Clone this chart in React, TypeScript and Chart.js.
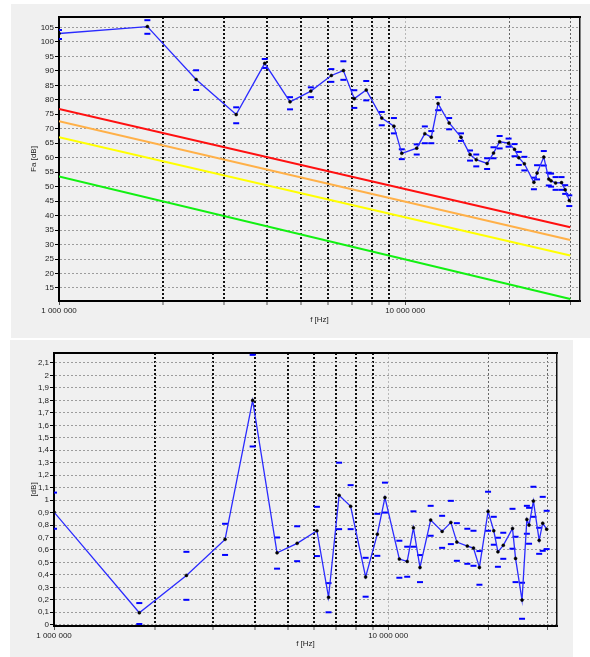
import React, { useEffect, useRef } from "react";
import { Chart, registerables } from "chart.js";

Chart.register(...registerables);

// ---------- data ----------
const freqsMHz = [1.0, 1.8, 2.49, 3.25, 3.93, 4.65, 5.34, 6.12, 6.63, 7.13, 7.72, 8.56, 9.28, 9.78, 10.8, 11.4, 11.9, 12.45, 13.4, 14.5, 15.4, 16.05, 17.25, 18.0, 18.75, 19.9, 20.7, 21.3, 22.1, 23.55, 24.05, 25.15, 26.0, 26.4, 27.2, 28.3, 29.0, 29.8];

const faMean = [102.9, 105.3, 87.0, 74.9, 92.6, 79.3, 83.0, 88.4, 90.1, 80.4, 83.4, 73.7, 70.9, 61.5, 63.3, 68.3, 67.1, 78.7, 72.0, 67.1, 61.1, 59.3, 58.0, 61.6, 65.5, 65.0, 62.9, 60.0, 57.9, 51.5, 54.7, 60.2, 52.6, 52.0, 51.3, 51.4, 48.9, 45.2];
const faMax = [104.1, 107.5, 90.2, 77.4, 94.1, 80.9, 84.3, 90.6, 93.3, 83.3, 86.5, 75.8, 73.7, 62.9, 64.6, 70.8, 69.2, 80.9, 73.7, 68.4, 62.5, 61.1, 59.8, 63.6, 67.5, 66.6, 64.7, 62.0, 60.3, 53.1, 57.4, 62.3, 54.8, 54.5, 53.3, 53.3, 50.5, 47.0];
const faMin = [101.0, 102.8, 83.4, 71.9, 91.0, 76.7, 80.9, 86.2, 86.9, 77.2, 79.8, 71.2, 68.4, 59.5, 61.1, 65.0, 65.0, 76.4, 69.8, 65.8, 59.0, 57.0, 56.1, 59.8, 63.2, 63.8, 60.5, 57.5, 55.6, 49.1, 52.5, 57.3, 50.4, 50.0, 48.9, 48.9, 47.5, 43.3];

const devMean = [0.904, 0.096, 0.396, 0.685, 1.8, 0.577, 0.653, 0.754, 0.22, 1.038, 0.95, 0.383, 0.727, 1.02, 0.527, 0.508, 0.778, 0.46, 0.84, 0.749, 0.821, 0.663, 0.631, 0.615, 0.46, 0.909, 0.754, 0.585, 0.637, 0.773, 0.532, 0.198, 0.845, 0.8, 0.992, 0.677, 0.815, 0.767];
const devMax = [1.06, 0.174, 0.585, 0.81, 2.165, 0.7, 0.79, 0.946, 0.334, 1.3, 1.12, 0.537, 0.89, 1.14, 0.674, 0.626, 0.91, 0.559, 0.954, 0.874, 0.994, 0.815, 0.77, 0.754, 0.591, 1.067, 0.866, 0.698, 0.738, 0.93, 0.706, 0.337, 0.954, 0.938, 1.107, 0.778, 1.026, 0.914];
const devMin = [0.77, 0.006, 0.2, 0.56, 1.43, 0.45, 0.51, 0.551, 0.1, 0.767, 0.767, 0.225, 0.553, 0.9, 0.377, 0.385, 0.626, 0.342, 0.714, 0.617, 0.647, 0.513, 0.489, 0.473, 0.321, 0.754, 0.642, 0.465, 0.529, 0.61, 0.342, 0.048, 0.73, 0.65, 0.866, 0.569, 0.593, 0.607];

const refFreqsMHz = [1, 30];
const curveRed = [76.8, 36.0];
const curveOrange = [72.6, 31.6];
const curveYellow = [67.1, 26.2];
const curveGreen = [53.5, 11.2];

const gridFreqsMHz = [1, 2, 3, 4, 5, 6, 7, 8, 9, 10, 20, 30];
const labelledFreqsMHz = [1, 10];
const faTicks = [15, 20, 25, 30, 35, 40, 45, 50, 55, 60, 65, 70, 75, 80, 85, 90, 95, 100, 105];
const devTicks = [0, 0.1, 0.2, 0.3, 0.4, 0.5, 0.6, 0.7, 0.8, 0.9, 1, 1.1, 1.2, 1.3, 1.4, 1.5, 1.6, 1.7, 1.8, 1.9, 2, 2.1];

// ---------- helpers ----------
const FONT = "'Liberation Sans', Arial, sans-serif";
const TXT = "#222";
const X_MIN = 1e6;
const X_MAX = 3.2e7;

const fmtHz = (v: number) => String(Math.round(v)).replace(/\B(?=(\d{3})+(?!\d))/g, " ");
const fmtDec = (v: number) => {
  const r = Math.round(v * 10) / 10;
  return Number.isInteger(r) ? String(r) : r.toFixed(1).replace(".", ",");
};

const pts = (xs: number[], ys: number[]) => xs.map((f, i) => ({ x: f * 1e6, y: ys[i] }));

function vColor(v: number) {
  const m = v / 1e6;
  if (m < 1.01) return "rgba(0,0,0,0)";
  if (m < 9.5) return "#111";
  if (m < 15) return "#b8b8b8";
  return "#666";
}
function vWidth(v: number) {
  const m = v / 1e6;
  return m > 1.01 && m < 9.5 ? 2 : 1;
}

function xAxis(height: number, titlePadBottom: number) {
  return {
    type: "logarithmic",
    position: "bottom",
    min: X_MIN,
    max: X_MAX,
    afterBuildTicks: (s: any) => {
      s.ticks = gridFreqsMHz.map((m) => ({ value: m * 1e6 }));
    },
    afterFit: (s: any) => {
      s.height = height;
    },
    ticks: {
      autoSkip: false,
      maxRotation: 0,
      minRotation: 0,
      padding: 1,
      color: TXT,
      font: { family: FONT, size: 8 },
      callback: (v: any) => (labelledFreqsMHz.some((m) => Math.abs(m * 1e6 - Number(v)) < 1) ? fmtHz(Number(v)) : ""),
    },
    grid: {
      color: (c: any) => vColor(c.tick ? c.tick.value : 0),
      lineWidth: (c: any) => vWidth(c.tick ? c.tick.value : 0),
      tickColor: "#555",
      tickWidth: 1,
      tickLength: 4,
    },
    border: { display: true, color: "#000", width: 2, dash: [2, 2] },
    title: {
      display: true,
      text: "f [Hz]",
      color: TXT,
      font: { family: FONT, size: 8 },
      padding: { top: 0, bottom: titlePadBottom },
    },
  };
}

function yAxis(min: number, max: number, ticks: number[], fmt: (v: number) => string, width: number, title: string, titlePad: number) {
  return {
    type: "linear",
    position: "left",
    min,
    max,
    afterBuildTicks: (s: any) => {
      s.ticks = ticks.map((v) => ({ value: v }));
    },
    afterFit: (s: any) => {
      s.width = width;
    },
    ticks: {
      padding: 1,
      color: TXT,
      font: { family: FONT, size: 8 },
      callback: (v: any) => fmt(Number(v)),
    },
    grid: { color: "#9c9c9c", lineWidth: 1, tickColor: "#000", tickWidth: 1, tickLength: 4 },
    border: { display: true, color: "#000", width: 2, dash: [2, 2] },
    title: {
      display: true,
      text: title,
      color: TXT,
      font: { family: FONT, size: 8 },
      padding: { top: titlePad, bottom: 0 },
    },
  };
}

const frameAxes = {
  xTop: {
    type: "linear",
    position: "top",
    grid: { display: false, drawTicks: false },
    ticks: { display: false },
    border: { display: true, color: "#000", width: 2 },
    afterFit: (s: any) => {
      s.height = 0;
    },
  },
  yRight: {
    type: "linear",
    position: "right",
    grid: { display: false, drawTicks: false },
    ticks: { display: false },
    border: { display: true, color: "#111", width: 1.5 },
    afterFit: (s: any) => {
      s.width = 0;
    },
  },
};

function meanSet(ys: number[]) {
  return {
    type: "line",
    data: pts(freqsMHz, ys),
    borderColor: "#2a2aff",
    borderWidth: 1.3,
    pointRadius: 1.5,
    pointBackgroundColor: "#000",
    pointBorderColor: "#000",
    pointBorderWidth: 0.5,
    showLine: true,
    tension: 0,
  };
}
function markSet(ys: number[]) {
  return {
    type: "scatter",
    data: pts(freqsMHz, ys),
    showLine: false,
    pointStyle: "line",
    pointRadius: 3,
    borderColor: "#0000ff",
    pointBorderColor: "#0000ff",
    pointBorderWidth: 2,
    borderWidth: 2,
  };
}
function refSet(ys: number[], color: string) {
  return {
    type: "line",
    data: pts(refFreqsMHz, ys),
    borderColor: color,
    borderWidth: 2,
    pointRadius: 0,
    tension: 0,
  };
}

function topConfig(): any {
  return {
    type: "scatter",
    data: {
      datasets: [
        meanSet(faMean),
        markSet(faMax),
        markSet(faMin),
        refSet(curveRed, "#ff1010"),
        refSet(curveOrange, "#ffb048"),
        refSet(curveYellow, "#ffff00"),
        refSet(curveGreen, "#12f012"),
      ],
    },
    options: {
      responsive: false,
      animation: false,
      devicePixelRatio: 1,
      layout: { padding: { left: 0, right: 10, top: 13, bottom: 0 } },
      plugins: { legend: { display: false }, tooltip: { enabled: false }, title: { display: false } },
      events: [],
      scales: {
        x: xAxis(37, 13),
        y: yAxis(10.5, 108.6, faTicks, (v) => String(v), 48, "Fa [dB]", 18),
        ...frameAxes,
      },
    },
  };
}

function bottomConfig(): any {
  return {
    type: "scatter",
    data: {
      datasets: [meanSet(devMean), markSet(devMax), markSet(devMin)],
    },
    options: {
      responsive: false,
      animation: false,
      devicePixelRatio: 1,
      layout: { padding: { left: 0, right: 16, top: 13, bottom: 0 } },
      plugins: { legend: { display: false }, tooltip: { enabled: false }, title: { display: false } },
      events: [],
      scales: {
        x: xAxis(31, 8),
        y: yAxis(-0.01, 2.18, devTicks, fmtDec, 44, "[dB]", 18.5),
        ...frameAxes,
      },
    },
  };
}

function ChartBox(props: { w: number; h: number; make: () => any }) {
  const ref = useRef<HTMLCanvasElement | null>(null);
  useEffect(() => {
    if (!ref.current) return;
    const chart = new Chart(ref.current, props.make());
    return () => chart.destroy();
  }, []);
  return <canvas ref={ref} width={props.w} height={props.h} style={{ display: "block", width: props.w, height: props.h }} />;
}

export default function App() {
  return (
    <div style={{ position: "absolute", left: 0, top: 0, width: 590, height: 657, background: "#fff", overflow: "hidden" }}>
      <div style={{ position: "absolute", left: 11, top: 4, width: 579, height: 334, background: "#f0f0f0" }}>
        <ChartBox w={579} h={334} make={topConfig} />
      </div>
      <div style={{ position: "absolute", left: 10, top: 340, width: 563, height: 317, background: "#f0f0f0" }}>
        <ChartBox w={563} h={317} make={bottomConfig} />
      </div>
    </div>
  );
}
